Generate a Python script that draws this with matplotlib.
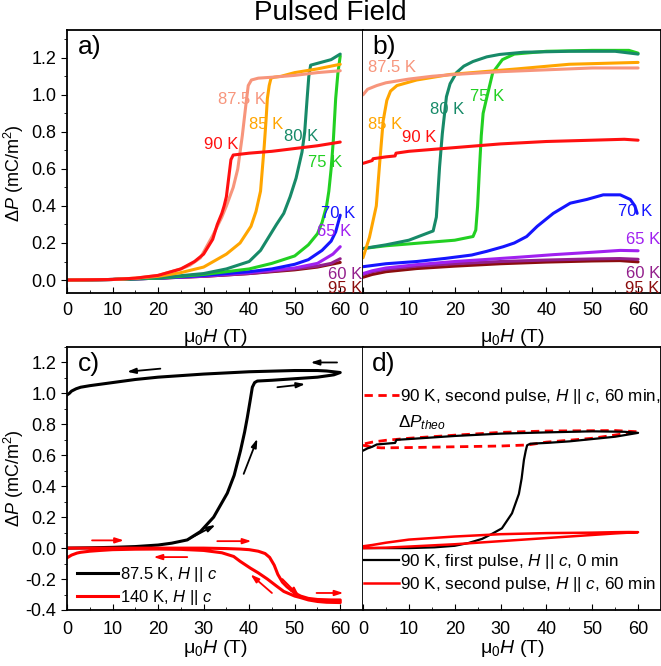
import numpy as np
import matplotlib
matplotlib.use('Agg')
import matplotlib.pyplot as plt
from matplotlib.ticker import MultipleLocator, FormatStrFormatter

plt.rcParams['font.family'] = ['Liberation Sans', 'DejaVu Sans']
plt.rcParams['mathtext.fontset'] = 'custom'
plt.rcParams['mathtext.rm'] = 'Liberation Sans'
plt.rcParams['mathtext.it'] = 'Liberation Sans:italic'
plt.rcParams['mathtext.bf'] = 'Liberation Sans:bold'
plt.rcParams['axes.unicode_minus'] = False

# ---- panel a) up sweep, panel b) down sweep : (H in T, dP in mC/m^2)
temps = ['95 K', '60 K', '65 K', '70 K', '75 K', '80 K', '85 K', '87.5 K', '90 K']
colors = ['#8b0d0d', '#931f8c', '#a020f0', '#1515ff', '#22d022',
          '#178a68', '#ffa500', '#f7957c', '#ff1010']

up_H = {
    '95 K': [0, 10, 20, 30, 40, 50, 55, 60],
    '60 K': [0, 10, 20, 30, 40, 50, 55, 58, 60],
    '65 K': [0, 10, 20, 30, 40, 50, 55, 58.4, 60],
    '70 K': [0, 10, 20, 30, 40, 45, 50, 53, 56, 58, 59, 60],
    '75 K': [0, 10, 20, 30, 40, 45, 50, 53, 55, 56, 57, 57.5, 58, 58.5, 59, 59.5, 60],
    '80 K': [0, 10, 20, 30, 35, 40, 42.5, 44, 46, 47.6, 49, 50.3, 51.6, 52.2, 52.7,
             53.1, 53.5, 55, 58, 60],
    '85 K': [0, 10, 15, 20, 25, 30, 35, 38, 40.4, 41.5, 42.5, 43.3, 43.7, 44, 44.4,
             44.8, 45.5, 47, 50, 55, 60],
    '87.5 K': [0, 10, 15, 20, 25, 27, 29.3, 32, 34, 35, 36.5, 37.5, 38.5, 39.3, 39.8,
               40.5, 42, 45, 50, 55, 60],
    '90 K': [0, 10, 15, 20, 25, 28, 30, 32, 33, 34, 34.5, 35, 35.5, 36, 36.5, 40, 45,
             50, 55, 60],
}
up_P = {
    '95 K': [0, 0.003, 0.01, 0.02, 0.035, 0.055, 0.07, 0.095],
    '60 K': [0, 0.003, 0.01, 0.02, 0.035, 0.06, 0.075, 0.09, 0.115],
    '65 K': [0, 0.003, 0.01, 0.022, 0.04, 0.065, 0.09, 0.14, 0.18],
    '70 K': [0, 0.003, 0.01, 0.025, 0.045, 0.06, 0.085, 0.11, 0.16, 0.21, 0.26, 0.35],
    '75 K': [0, 0.003, 0.01, 0.03, 0.06, 0.09, 0.13, 0.19, 0.25, 0.31, 0.4, 0.48, 0.6,
             0.76, 0.98, 1.12, 1.21],
    '80 K': [0, 0.003, 0.012, 0.035, 0.06, 0.1, 0.16, 0.22, 0.3, 0.36, 0.45, 0.55, 0.69,
             0.8, 0.97, 1.1, 1.16, 1.17, 1.19, 1.22],
    '85 K': [0, 0.003, 0.01, 0.02, 0.04, 0.07, 0.14, 0.2, 0.29, 0.37, 0.48, 0.72, 0.86,
             0.98, 1.05, 1.09, 1.095, 1.1, 1.12, 1.14, 1.165],
    '87.5 K': [0, 0.003, 0.01, 0.025, 0.06, 0.08, 0.12, 0.24, 0.34, 0.4, 0.5, 0.6, 0.78,
               0.95, 1.05, 1.08, 1.09, 1.095, 1.105, 1.12, 1.13],
    '90 K': [0, 0.003, 0.01, 0.025, 0.06, 0.1, 0.14, 0.22, 0.3, 0.36, 0.4, 0.45, 0.55,
             0.65, 0.675, 0.685, 0.695, 0.71, 0.725, 0.745],
}

down_H = {
    '95 K': [0, 2, 5, 11.7, 20, 30, 40, 50, 56, 60],
    '60 K': [0, 2, 5, 11.7, 20, 30, 40, 50, 56, 60],
    '65 K': [0, 2, 5, 11.7, 20, 26.2, 35, 41.5, 50, 56.1, 60],
    '70 K': [0, 5, 11.7, 18, 23.7, 27, 30.6, 33, 35.7, 38, 41.5, 45.2, 48.8, 52.4, 56.1,
             58.3, 59.3, 59.8],
    '75 K': [0, 5, 10, 15, 20, 24, 24.6, 25, 25.4, 25.8, 26.2, 26.9, 28.3, 30.4, 33, 40,
             50, 58, 60],
    '80 K': [0, 5, 10, 15.3, 16, 16.7, 17.3, 18.2, 19, 20.4, 22, 24, 27, 29.8, 35, 45,
             55, 60],
    '85 K': [0, 1.4, 2.9, 3.6, 4.4, 5.2, 6, 7.4, 11.7, 19, 33.6, 45, 60],
    '87.5 K': [0, 1, 3, 5, 10, 15, 20, 30, 40, 50, 60],
    '90 K': [0, 2, 2.2, 5, 7, 7.2, 10, 20, 30, 40, 50, 57, 60],
}
down_P = {
    '95 K': [0.015, 0.03, 0.045, 0.062, 0.075, 0.088, 0.097, 0.103, 0.105, 0.098],
    '60 K': [0.03, 0.045, 0.058, 0.075, 0.088, 0.1, 0.108, 0.114, 0.116, 0.112],
    '65 K': [0.035, 0.05, 0.065, 0.083, 0.1, 0.11, 0.125, 0.137, 0.15, 0.16, 0.158],
    '70 K': [0.072, 0.088, 0.1, 0.117, 0.135, 0.155, 0.18, 0.2, 0.235, 0.29, 0.36, 0.415,
             0.435, 0.46, 0.46, 0.435, 0.4, 0.36],
    '75 K': [0.17, 0.185, 0.195, 0.205, 0.215, 0.235, 0.27, 0.4, 0.6, 0.78, 0.9, 0.975,
             1.12, 1.19, 1.22, 1.235, 1.24, 1.24, 1.225],
    '80 K': [0.17, 0.19, 0.215, 0.265, 0.34, 0.61, 0.79, 0.99, 1.06, 1.12, 1.155, 1.18,
             1.205, 1.218, 1.23, 1.235, 1.235, 1.22],
    '85 K': [0.12, 0.23, 0.4, 0.62, 0.86, 0.97, 1.02, 1.05, 1.08, 1.11, 1.14, 1.165, 1.175],
    '87.5 K': [1.0, 1.03, 1.05, 1.065, 1.085, 1.1, 1.11, 1.125, 1.135, 1.145, 1.145],
    '90 K': [0.63, 0.645, 0.655, 0.665, 0.67, 0.685, 0.695, 0.715, 0.735, 0.748, 0.755,
             0.76, 0.755],
}

# label positions (H, dP) for panels a and b
lab_a = {'95 K': (61, -0.045), '60 K': (61, 0.03), '65 K': (58.7, 0.26),
         '70 K': (59.5, 0.36), '75 K': (56.7, 0.633), '80 K': (51.4, 0.775),
         '85 K': (43.7, 0.84), '87.5 K': (38.5, 0.975), '90 K': (33.8, 0.73)}
lab_b = {'95 K': (61, -0.045), '60 K': (61, 0.036), '65 K': (61, 0.22),
         '70 K': (59.3, 0.37), '75 K': (27, 0.99), '80 K': (18.4, 0.92),
         '85 K': (4.8, 0.84), '87.5 K': (6.3, 1.147), '90 K': (12.3, 0.77)}

# ---- panel c)
c_black_up_H = [0, 5, 10, 15, 20, 23, 26.4, 29.3, 32.2, 35.2, 36.7, 38.1, 39, 39.6, 40.2,
                40.7, 41.2, 41.8, 45, 50, 55, 58.6, 60]
c_black_up_P = [0, 0.002, 0.005, 0.01, 0.02, 0.032, 0.053, 0.107, 0.2, 0.355, 0.47, 0.63,
                0.75, 0.845, 0.95, 1.04, 1.07, 1.08, 1.085, 1.095, 1.105, 1.12, 1.135]
c_black_dn_H = [60, 57, 55, 50, 40, 30, 20, 15, 10, 5, 3, 2, 1, 0.5, 0]
c_black_dn_P = [1.135, 1.145, 1.148, 1.148, 1.14, 1.125, 1.105, 1.09, 1.07, 1.05, 1.04,
                1.03, 1.015, 1.0, 0.99]
c_red_up_H = [0, 10, 20, 30, 35, 38, 40, 42, 43.5, 44.5, 45.5, 46.3, 47.3, 48.3, 50, 51.3,
              53, 55, 58, 60]
c_red_up_P = [0, 0, 0, 0, -0.003, -0.006, -0.01, -0.02, -0.035, -0.06, -0.11, -0.17,
              -0.22, -0.25, -0.29, -0.31, -0.325, -0.332, -0.335, -0.335]
c_red_dn_H = [60, 57, 55, 53, 51.3, 50, 47.6, 46, 44, 42, 40.3, 38, 36.6, 34, 30, 25, 20,
              15, 10, 7.3, 5, 3, 2.2, 1, 0]
c_red_dn_P = [-0.352, -0.35, -0.345, -0.335, -0.32, -0.31, -0.28, -0.245, -0.2, -0.16,
              -0.13, -0.085, -0.054, -0.03, -0.015, -0.008, -0.006, -0.007, -0.01, -0.015,
              -0.02, -0.027, -0.032, -0.045, -0.063]
# arrows (start -> end)
c_arrows_black = [((20.5, 1.16), (13.2, 1.14)), ((59.3, 1.2), (53.5, 1.2)),
                  ((46.2, 1.04), (52.3, 1.06)), ((38.8, 0.48), (41.8, 0.707)),
                  ((26.4, 0.053), (32.6, 0.15))]
c_arrows_red = [((5.5, 0.05), (12.5, 0.05)), ((33, 0.045), (40.5, 0.045)),
                ((26.4, -0.058), (19, -0.058)), ((47.3, -0.2), (51, -0.31)),
                ((45, -0.29), (40.3, -0.17)), ((54.8, -0.29), (60.7, -0.29))]

# ---- panel d)
d_black_up_H = [0, 10, 15.6, 20, 23, 26, 28, 30.3, 32.5, 34, 34.6, 35.1, 35.5, 35.8, 36.5,
                40, 45, 50, 55, 60]
d_black_up_P = [0, 0.0, 0.005, 0.015, 0.033, 0.06, 0.09, 0.128, 0.225, 0.35, 0.45, 0.57,
                0.63, 0.665, 0.675, 0.68, 0.69, 0.705, 0.72, 0.745]
d_black_dn_H = [60, 57, 50, 40, 30, 20, 10, 7.3, 7.0, 5, 3, 2, 1, 0]
d_black_dn_P = [0.745, 0.752, 0.755, 0.748, 0.74, 0.725, 0.705, 0.7, 0.68, 0.675, 0.67,
                0.655, 0.645, 0.63]
d_theo_H = [0, 1.5, 4, 10, 20, 30, 36, 40, 50, 60, 55, 40, 30, 20, 10, 5, 2, 0]
d_theo_P = [0.665, 0.655, 0.648, 0.65, 0.655, 0.66, 0.667, 0.685, 0.71, 0.752, 0.76,
            0.757, 0.748, 0.73, 0.71, 0.697, 0.685, 0.672]
d_red_H = [0, 5, 10, 20, 30, 40, 50, 55, 58, 60, 58, 55, 50, 40, 30, 20, 10, 5, 2, 0]
d_red_P = [0.0, 0.003, 0.01, 0.025, 0.045, 0.065, 0.085, 0.095, 0.1, 0.103, 0.104, 0.103,
           0.1, 0.097, 0.09, 0.075, 0.055, 0.035, 0.02, 0.012]

W, Hh = 661, 666
fig = plt.figure(figsize=(W / 100, Hh / 100), dpi=100)


def box(x0, x1, ytop, ybot):
    return [x0 / W, 1 - ybot / Hh, (x1 - x0) / W, (ybot - ytop) / Hh]


ax_a = fig.add_axes(box(67, 363, 30, 293))
ax_b = fig.add_axes(box(363, 661, 30, 293))
ax_c = fig.add_axes(box(67, 363, 347, 610))
ax_d = fig.add_axes(box(363, 661, 347, 610))

xlab = r'μ$_0$$H$ (T)'
ylab = r'$\Delta P$ (mC/m$^2$)'

for ax in (ax_a, ax_b, ax_c, ax_d):
    top = ax in (ax_a, ax_b)
    ax.set_xlim(0, 65)
    ax.xaxis.set_major_locator(MultipleLocator(10))
    ax.xaxis.set_minor_locator(MultipleLocator(5))
    ax.tick_params(axis='x', which='both', direction='in', labelsize=13,
                   pad=6.5 if top else 8)
    ax.tick_params(axis='x', which='major', length=4)
    ax.tick_params(axis='x', which='minor', length=2.5)
    ax.set_xticks([0, 10, 20, 30, 40, 50, 60])
    ax.set_xlabel(xlab, fontsize=14, labelpad=6 if top else 0)
    for s in ax.spines.values():
        s.set_linewidth(1.3)

for ax in (ax_a, ax_b):
    ax.set_ylim(-0.07, 1.35)
for ax in (ax_c, ax_d):
    ax.set_ylim(-0.4, 1.3)

for ax in (ax_a, ax_c):
    ax.yaxis.set_major_locator(MultipleLocator(0.2))
    ax.yaxis.set_minor_locator(MultipleLocator(0.1))
    ax.tick_params(axis='y', which='both', direction='out', labelsize=13)
    ax.tick_params(axis='y', which='major', length=4)
    ax.tick_params(axis='y', which='minor', length=2.5)
    ax.set_ylabel(ylab, fontsize=13)
    ax.yaxis.set_major_formatter(FormatStrFormatter('%.1f'))
ax_c.set_yticks([-0.4, -0.2, 0.0, 0.2, 0.4, 0.6, 0.8, 1.0, 1.2])
ax_a.yaxis.set_label_coords(-0.138, 0.454)
ax_c.yaxis.set_label_coords(-0.138, 0.5)

for ax in (ax_b, ax_d):
    ax.tick_params(axis='y', which='both', left=False, labelleft=False)
    ax.spines['left'].set_visible(False)

# panels a and b
for t, col in zip(temps, colors):
    ax_a.plot(up_H[t], up_P[t], color=col, lw=2.2, solid_capstyle='round')
    ax_b.plot(down_H[t], down_P[t], color=col, lw=2.2, solid_capstyle='round')
    ax_a.text(*lab_a[t], t, color=col, fontsize=12, ha='center', va='center')
    ax_b.text(*lab_b[t], t, color=col, fontsize=12, ha='center', va='center')

# panel c
ax_c.plot(c_black_up_H + c_black_dn_H, c_black_up_P + c_black_dn_P, color='black', lw=2.2,
          label=r'87.5 K, $H$ || $c$')
ax_c.plot(c_red_up_H + c_red_dn_H, c_red_up_P + c_red_dn_P, color='#ff0000', lw=2.2,
          label=r'140 K, $H$ || $c$')
for arrows, col in ((c_arrows_black, 'black'), (c_arrows_red, '#ff0000')):
    for st, en in arrows:
        ax_c.annotate('', xy=en, xytext=st,
                      arrowprops=dict(arrowstyle='-|>,head_length=0.5,head_width=0.16',
                                      color=col, lw=1.3, shrinkA=0, shrinkB=0))
ax_c.legend(loc='center left', bbox_to_anchor=(0.034, 0.092), frameon=False, fontsize=12,
            handlelength=2.45, handletextpad=0.1, borderpad=0, labelspacing=0.25,
            borderaxespad=0)

# panel d
l_theo, = ax_d.plot(d_theo_H, d_theo_P, color='#ff0000', lw=2.0, ls=(0, (3, 2)),
                    label=r'90 K, second pulse, $H$ || $c$, 60 min,')
l_first, = ax_d.plot(d_black_up_H + d_black_dn_H, d_black_up_P + d_black_dn_P,
                     color='black', lw=1.6, label=r'90 K, first pulse, $H$ || $c$, 0 min')
l_sec, = ax_d.plot(d_red_H, d_red_P, color='#ff0000', lw=1.8,
                   label=r'90 K, second pulse, $H$ || $c$, 60 min')
leg1 = ax_d.legend(handles=[l_theo], loc='center left', bbox_to_anchor=(0.005, 0.811),
                   frameon=False, fontsize=12.3, handlelength=2.0, handletextpad=0.1,
                   borderpad=0, borderaxespad=0)
ax_d.add_artist(leg1)
ax_d.legend(handles=[l_first, l_sec], loc='center left', bbox_to_anchor=(0.005, 0.142),
            frameon=False, fontsize=12.3, handlelength=2.0, handletextpad=0.1,
            borderpad=0, labelspacing=0.25, borderaxespad=0)
ax_d.text(0.117, 0.711, r'$\Delta P_{theo}$', transform=ax_d.transAxes, fontsize=12.3,
          ha='left', va='center')

# panel labels
for ax, lab in ((ax_a, 'a)'), (ax_b, 'b)'), (ax_c, 'c)'), (ax_d, 'd)')):
    x0 = 0.037 if ax in (ax_a, ax_c) else 0.03
    ax.text(x0, 0.98, lab, transform=ax.transAxes, fontsize=19, ha='left', va='top')

fig.text(0.5, 1 - 13 / Hh, 'Pulsed Field', ha='center', va='center', fontsize=20)

fig.savefig('out.png', dpi=100)
